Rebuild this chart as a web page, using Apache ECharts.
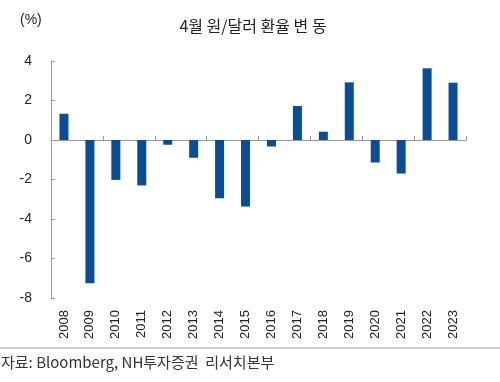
<!DOCTYPE html>
<html><head><meta charset="utf-8">
<script src="https://cdn.jsdelivr.net/npm/echarts@6/dist/echarts.min.js"></script>
<style>html,body{margin:0;padding:0;background:#fff}#c{width:500px;height:382px}</style>
</head><body><div id="c"></div>
<script>
const years = ['2008','2009','2010','2011','2012','2013','2014','2015','2016','2017','2018','2019','2020','2021','2022','2023'];
const changes = [1.33, -7.25, -2.02, -2.3, -0.24, -0.9, -2.95, -3.37, -0.33, 1.72, 0.42, 2.92, -1.14, -1.7, 3.63, 2.9];
const yTicks = {min: -8, max: 4, interval: 2};
const titleText = '4월 원/달러 환율 변 동';
const unitText = '(%)';
const sourceText = '자료: Bloomberg, NH투자증권  리서치본부';

const chart = echarts.init(document.getElementById('c'));
const fontLat = '"Liberation Sans", Arial, "Noto Sans CJK KR", sans-serif';
const fontKr = '"Noto Sans CJK KR", "Liberation Sans", sans-serif';
chart.setOption({
  animation: false,
  backgroundColor: '#fff',
  title: {
    text: titleText, left: 248, top: 13, textAlign: 'center',
    textStyle: {fontFamily: fontKr, fontSize: 16, fontWeight: 'normal', color: '#222'}
  },
  grid: {left: 51, right: 34, top: 61, bottom: 84, containLabel: false},
  xAxis: [{
    type: 'category', data: years, position: 'bottom',
    axisLine: {show: false, onZero: false}, axisTick: {show: false},
    axisLabel: {rotate: 90, margin: 12, fontSize: 13, color: '#222', fontFamily: fontLat}
  }, {
    type: 'category', data: years, position: 'bottom',
    axisLine: {show: true, onZero: true, lineStyle: {color: '#999', width: 1}},
    axisTick: {show: true, inside: true, length: 4, lineStyle: {color: '#999'}},
    axisLabel: {show: false}
  }],
  yAxis: {
    type: 'value', min: yTicks.min, max: yTicks.max, interval: yTicks.interval,
    splitLine: {show: false},
    axisLine: {show: true, lineStyle: {color: '#999', width: 1}},
    axisTick: {show: true, inside: true, length: 4, lineStyle: {color: '#999'}},
    axisLabel: {fontSize: 14, color: '#222', margin: 19, fontFamily: fontLat}
  },
  series: [{
    type: 'bar', data: changes, xAxisIndex: 0, barWidth: 9,
    itemStyle: {color: '#0b4c97'}
  }],
  graphic: [
    {type: 'text', left: 20, top: 13, style: {text: unitText, fontSize: 14, fill: '#222', fontFamily: fontLat}},
    {type: 'rect', shape: {x: 0, y: 347, width: 500, height: 2}, style: {fill: '#d0d0d0'}},
    {type: 'text', left: 1, top: 355, style: {text: sourceText, fontSize: 15, fill: '#333', fontFamily: fontKr}}
  ]
});
</script></body></html>
